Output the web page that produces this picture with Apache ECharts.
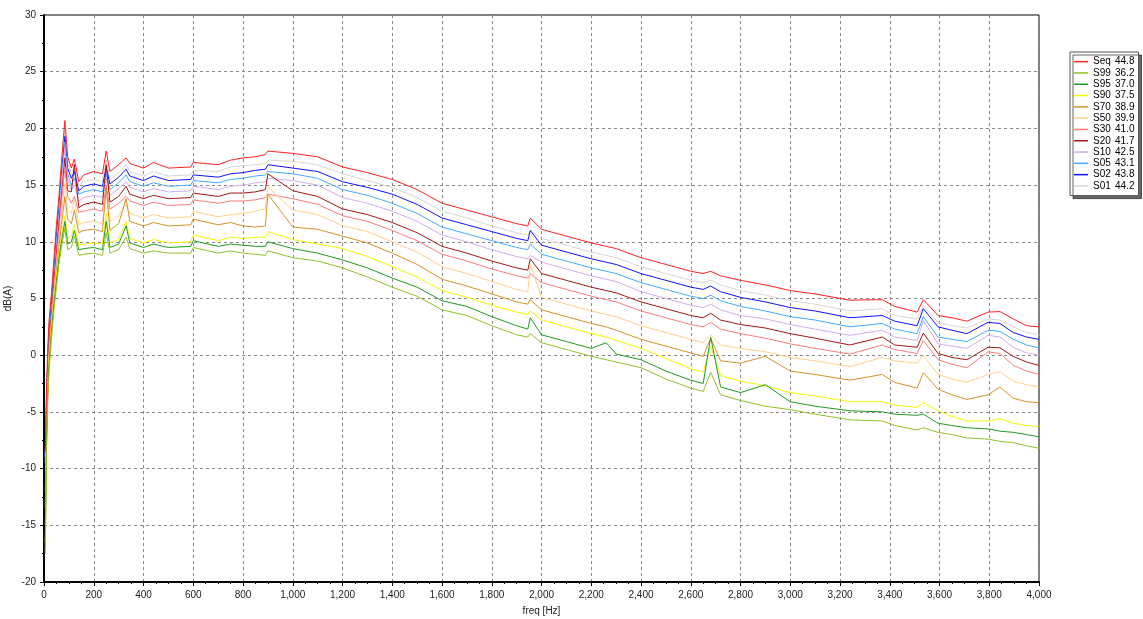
<!DOCTYPE html>
<html>
<head>
<meta charset="utf-8">
<script src="https://cdn.jsdelivr.net/npm/echarts@6/dist/echarts.min.js"></script>
<style>
  html, body { margin: 0; padding: 0; background: #fff; }
  #chart { width: 1143px; height: 619px; }
</style>
</head>
<body>
<div id="chart"></div>
<script>
// frequency points (Hz)
var freqs = [5,10,15,20,30,40,50,60,70,84, 95,110,122,140,160,200,235,250,265,300,
  330,345,400,440,500,590,600,700,750,800, 850,890,900,1000,1100,1200,1300,1400,1500,1600,
  1700,1800,1900,1945,1955,2000,2100,2200,2260,2300, 2400,2500,2600,2650,2680,2720,2800,2900,3000,3100,
  3240,3370,3420,3510,3535,3594,3650,3710,3795,3843, 3896,3950,4000];

// levels dB(A) per statistic
var seq = [-8.5,-3,0.5,3,5.5,8.5,11.5,14,17,20.7, 17.5,16.5,17.3,15.3,15.9,16.2,16.0,18.0,16.2,16.8,
  17.4,16.9,16.5,17.0,16.5,16.6,17.0,16.8,17.2,17.4, 17.5,17.7,18.0,17.8,17.5,16.6,16.1,15.5,14.6,13.4,
  12.8,12.2,11.6,11.4,12.1,11.1,10.5,9.9,9.6,9.4, 8.6,8.0,7.4,7.2,7.4,7.0,6.6,6.2,5.7,5.4,
  4.85,4.9,4.3,3.8,4.9,3.5,3.3,3.0,3.8,3.85, 3.2,2.6,2.5];
var s01 = [-9.5,-4,0,2.5,5,8,11,13.5,16.5,19.8, 17.0,16.0,16.6,15.0,15.3,15.5,15.3,17.2,15.5,16.1,
  16.8,16.2,15.8,16.2,15.8,15.9,16.3,16.2,16.6,16.7, 16.8,16.9,17.2,17.1,16.8,16.0,15.4,14.8,13.9,12.7,
  12.1,11.4,10.8,10.6,11.0,10.3,9.7,9.1,8.8,8.6, 7.8,7.2,6.6,6.4,6.6,6.2,5.7,5.3,4.8,4.5,
  3.9,4.1,3.5,3.2,4.35,2.9,2.6,2.4,3.2,3.1, 2.5,2.0,1.8];
var s02 = [-9,-4,-0.5,2,4.5,7.5,10.5,13,16,19.3, 16.5,15.6,16.2,14.5,14.9,15.1,14.9,16.6,15.1,15.7,
  16.4,15.8,15.4,15.8,15.4,15.5,15.9,15.7,16.0,16.1, 16.3,16.4,16.8,16.5,16.2,15.3,14.8,14.2,13.3,12.1,
  11.5,10.9,10.3,10.1,11.0,9.7,9.1,8.5,8.2,8.0, 7.2,6.6,6.0,5.8,6.1,5.6,5.1,4.7,4.2,3.9,
  3.3,3.5,3.0,2.6,4.1,2.5,2.2,1.9,2.9,2.8, 2.0,1.6,1.4];
var s05 = [-9,-4.5,-1,1.5,4,7,10,12.5,15.5,18.8, 16.0,15.0,15.6,14.2,14.4,14.6,14.4,16.0,14.6,15.2,
  15.9,15.3,14.9,15.2,14.9,15.0,15.4,15.2,15.5,15.6, 15.8,15.9,16.2,16.0,15.6,14.6,14.1,13.4,12.5,11.3,
  10.7,10.1,9.5,9.3,9.8,8.9,8.3,7.7,7.4,7.2, 6.4,5.8,5.2,5.0,5.3,4.8,4.3,3.9,3.4,3.1,
  2.5,2.8,2.3,1.9,3.4,1.6,1.4,1.2,2.2,2.1, 1.4,0.9,0.65];
var s10 = [-9,-5,-1.5,1,3.5,6.5,9.5,12,15,18.2, 15.5,14.6,15.0,13.6,13.9,14.1,13.9,15.6,14.1,14.7,
  15.3,14.8,14.4,14.7,14.4,14.5,14.9,14.6,14.9,15.0, 15.2,15.3,15.6,15.4,15.0,13.9,13.4,12.7,11.8,10.6,
  10.0,9.3,8.7,8.5,8.8,8.2,7.6,7.0,6.7,6.5, 5.6,5.0,4.4,4.2,4.5,4.0,3.5,3.2,2.7,2.3,
  1.75,2.2,1.6,1.3,3.05,1.0,0.8,0.6,1.75,1.6, 0.7,0.2,0.0];
var s20 = [-8.5,-5,-1.5,1,3.5,6.5,9,11.5,14,17.4, 14.5,14.4,16.8,13.0,13.3,13.5,13.3,16.8,13.5,14.0,
  14.9,14.2,13.8,14.1,13.8,13.9,14.3,14.0,14.3,14.3, 14.4,14.6,16.0,14.5,14.0,12.9,12.4,11.7,10.8,9.6,
  9.0,8.3,7.7,7.5,8.5,7.2,6.6,6.0,5.7,5.5, 4.7,4.1,3.5,3.3,3.7,3.1,2.7,2.4,1.9,1.5,
  0.9,1.6,0.9,0.7,1.95,0.15,-0.2,-0.4,0.7,0.65, -0.1,-0.6,-0.9];
var s30 = [-12,-6,-2,0.5,3,6,8.5,11,13.5,16.6, 14.0,13.4,14.0,12.6,12.7,12.9,12.7,15.0,12.9,13.4,
  14.0,13.6,13.2,13.5,13.2,13.3,13.7,13.4,13.6,13.6, 13.7,13.9,14.2,13.8,13.3,12.3,11.8,11.0,10.1,8.9,
  8.3,7.6,7.0,6.8,7.2,6.4,5.8,5.2,4.9,4.7, 3.9,3.3,2.7,2.5,2.9,2.3,1.9,1.5,1.0,0.6,
  0.1,0.9,0.5,0.15,1.3,-0.4,-0.8,-1.1,0.3,0.15, -0.9,-1.4,-1.7];
var s50 = [-13.5,-7,-2.5,0,3,5.5,8,10,12.5,15.2, 12.8,12.5,13.8,11.5,11.7,11.8,11.6,14.5,11.8,12.3,
  13.3,12.5,12.1,12.4,12.1,12.2,12.7,12.2,12.4,12.5, 12.7,12.9,14.8,12.8,12.4,11.4,10.9,10.0,9.1,7.8,
  7.2,6.5,5.8,5.6,8.0,5.1,4.5,3.9,3.6,3.4, 2.6,2.0,1.4,1.1,1.8,0.9,0.6,0.3,-0.2,-0.5,
  -1.0,-0.2,-0.5,-0.7,0.0,-1.7,-2.1,-2.4,-1.7,-1.45, -2.3,-2.6,-2.8];
var s70 = [-15,-7.5,-3,-0.5,2.5,5,7.5,9.5,11.5,14.0, 12.0,11.6,12.8,10.8,11.0,11.1,10.9,14.8,11.0,11.6,
  13.8,11.8,11.4,11.7,11.4,11.5,12.0,11.5,11.7,11.4, 11.3,11.4,14.2,11.3,11.1,10.5,9.9,9.0,8.0,6.7,
  6.1,5.4,4.7,4.5,4.9,4.0,3.4,2.8,2.5,2.2, 1.4,0.8,0.2,-0.1,1.5,-0.5,-0.7,-0.1,-1.4,-1.7,
  -2.2,-1.7,-2.4,-2.9,-1.55,-3.0,-3.5,-3.9,-3.5,-2.8, -3.8,-4.1,-4.2];
var s90 = [-16.5,-8,-3,-0.5,2.5,5,7,9,10.5,12.3, 10.3,10.5,11.5,9.7,9.8,9.9,9.8,12.5,9.9,10.2,
  11.8,10.3,9.9,10.2,9.9,10.0,10.6,10.1,10.4,10.3, 10.4,10.4,10.9,10.2,9.8,9.4,8.7,7.8,6.9,5.7,
  5.1,4.4,3.8,3.6,3.9,3.1,2.5,1.9,1.6,1.3, 0.6,-0.3,-1.2,-1.5,0.8,-1.8,-2.3,-2.7,-3.3,-3.6,
  -4.1,-4.1,-4.4,-4.6,-4.2,-4.9,-5.4,-5.8,-5.8,-5.6, -6.0,-6.2,-6.3];
var s95 = [-17,-8,-3.5,-1,2,4.5,6.5,8.5,10,11.8, 9.8,10.0,11.0,9.3,9.4,9.5,9.3,11.8,9.5,9.8,
  11.4,9.9,9.5,9.8,9.5,9.6,10.1,9.6,9.8,9.7, 9.6,9.6,10.0,9.4,9.0,8.4,7.7,6.8,6.0,4.8,
  4.3,3.4,2.6,2.3,3.3,1.8,1.2,0.6,1.1,0.1, -0.4,-1.4,-2.2,-2.5,1.6,-2.8,-3.3,-2.6,-4.1,-4.5,
  -4.9,-5.0,-5.2,-5.3,-5.2,-6.0,-6.2,-6.4,-6.5,-6.7, -6.8,-7.0,-7.2];
var s99 = [-17.5,-8.5,-4,-1.5,1.5,4,6,8,9.5,11.2, 9.3,9.5,10.5,8.8,8.9,9.0,8.8,10.8,9.0,9.3,
  10.4,9.4,9.0,9.2,9.0,9.0,9.5,9.0,9.2,9.0, 8.9,8.8,9.2,8.6,8.3,7.7,6.9,6.0,5.2,4.0,
  3.5,2.6,1.8,1.6,1.9,1.1,0.5,-0.1,-0.4,-0.6, -1.1,-2.1,-2.9,-3.2,-1.5,-3.5,-4.0,-4.5,-4.8,-5.2,
  -5.7,-5.8,-6.2,-6.6,-6.4,-6.8,-7.0,-7.3,-7.4,-7.6, -7.7,-8.0,-8.2];

// legend names, overall values, colours (legend order)
var names = ['Seq','S99','S95','S90','S70','S50','S30','S20','S10','S05','S02','S01'];
var totals = ['44.8','36.2','37.0','37.5','38.9','39.9','41.0','41.7','42.5','43.1','43.8','44.2'];
var colors = ['#ff2020','#92c02a','#1f9a1f','#f5f500','#d39228','#ffd08a','#ff7a7a','#a51515','#cfaeea','#44aaff','#1010ff','#d6d6d6'];
var values = [seq, s99, s95, s90, s70, s50, s30, s20, s10, s05, s02, s01];

var chart = echarts.init(document.getElementById('chart'));

var series = [];
// draw low statistics first, Seq on top
for (var i = names.length - 1; i >= 0; i--) {
    var pts = [];
    for (var k = 0; k < freqs.length; k++) {
        pts.push([freqs[k], values[i][k]]);
    }
    series.push({
        name: names[i],
        type: 'line',
        data: pts,
        symbol: 'none',
        animation: false,
        lineStyle: { width: 1, color: colors[i] },
        itemStyle: { color: colors[i] }
    });
}

var option = {
    animation: false,
    textStyle: { fontFamily: 'Liberation Sans, Arial, sans-serif' },
    grid: {
        left: 44, right: 104, top: 15, bottom: 37,
        outerBoundsMode: 'none', containLabel: false,
        show: true, borderColor: '#000', borderWidth: 1
    },
    legend: {
        data: names,
        orient: 'vertical',
        left: 1070, top: 52,
        icon: 'rect',
        itemWidth: 14, itemHeight: 1.5, itemGap: 0,
        padding: [4, 4, 4, 4],
        backgroundColor: '#fff',
        borderColor: '#555', borderWidth: 1,
        shadowColor: 'rgba(0,0,0,0.6)', shadowOffsetX: 3, shadowOffsetY: 3, shadowBlur: 0,
        selectedMode: false,
        formatter: function (name) {
            return '{n|' + name + '}{v|' + totals[names.indexOf(name)] + '}';
        },
        textStyle: {
            fontSize: 10, color: '#000', lineHeight: 11.3,
            rich: {
                n: { width: 22, fontSize: 10, color: '#000' },
                v: { fontSize: 10, color: '#000' }
            }
        }
    },
    xAxis: {
        type: 'value', min: 0, max: 4000, interval: 200,
        name: 'freq [Hz]', nameLocation: 'middle', nameGap: 24, nameMoveOverlap: false,
        nameTextStyle: { fontSize: 10, color: '#222' },
        axisLine: { onZero: false, lineStyle: { color: '#000', width: 2 } },
        axisTick: { length: 4, lineStyle: { color: '#000' } },
        minorTick: { show: true, splitNumber: 4, length: 2, lineStyle: { color: '#000' } },
        axisLabel: {
            fontSize: 10, color: '#222', margin: 8,
            formatter: function (v) { return v.toLocaleString('en-US'); }
        },
        splitLine: { lineStyle: { color: '#888', type: [3, 3] } }
    },
    yAxis: {
        type: 'value', min: -20, max: 30, interval: 5,
        name: 'dB(A)', nameLocation: 'middle', nameGap: 31, nameMoveOverlap: false,
        nameTextStyle: { fontSize: 10, color: '#222' },
        axisLine: { show: true, onZero: false, lineStyle: { color: '#000', width: 2 } },
        axisTick: { show: true, length: 4, lineStyle: { color: '#000' } },
        minorTick: { show: true, splitNumber: 2, length: 2, lineStyle: { color: '#000' } },
        axisLabel: { fontSize: 10, color: '#222', margin: 8 },
        splitLine: { lineStyle: { color: '#888', type: [3, 3] } }
    },
    series: series
};
chart.setOption(option);
</script>
</body>
</html>
